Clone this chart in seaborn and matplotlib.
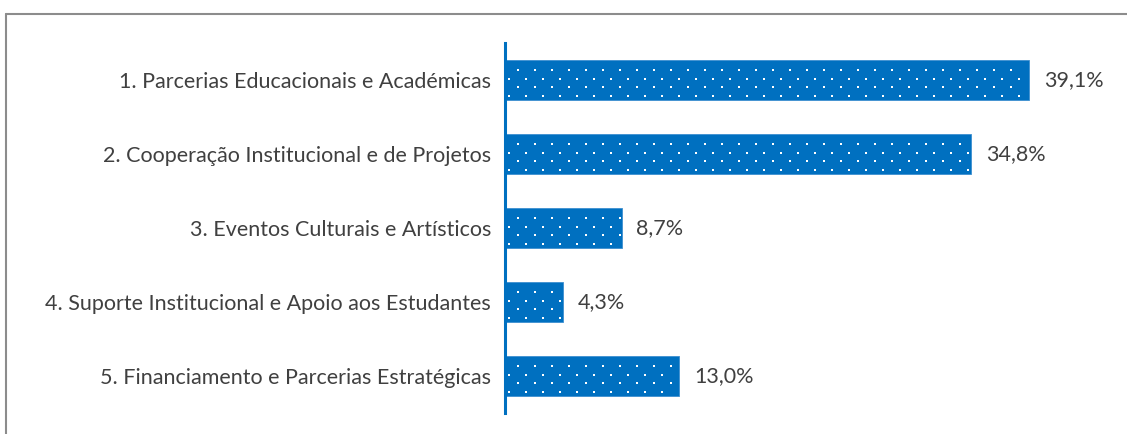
import numpy as np
import pandas as pd
import matplotlib
import matplotlib.pyplot as plt
from matplotlib.lines import Line2D
import seaborn as sns

categories = [
    "1. Parcerias Educacionais e Académicas",
    "2. Cooperação Institucional e de Projetos",
    "3. Eventos Culturais e Artísticos",
    "4. Suporte Institucional e Apoio aos Estudantes",
    "5. Financiamento e Parcerias Estratégicas",
]
values = [39.1, 34.8, 8.7, 4.3, 13.0]

sns.set_style("white")
plt.rcParams['font.family'] = ['Lato', 'DejaVu Sans']

df = pd.DataFrame({"categoria": categories, "pct": values})

fig = plt.figure(figsize=(11.27, 4.34), dpi=100)
ax = fig.add_axes([505 / 1127, 1 - 413 / 434, (1108 - 505) / 1127, (413 - 43) / 434])

sns.barplot(data=df, x="pct", y="categoria", orient="h", color="#0070C0",
            saturation=1, width=0.54, ax=ax, edgecolor="#3d8fd0", linewidth=0.6)

for i, v in enumerate(values):
    ax.text(v + 1.1, i, f"{v:.1f}%".replace(".", ","), va="center", ha="left",
            fontsize=15.5, color="#404040")

ax.set_xlim(0, 45)
ax.set_ylim(4.5, -0.5)
ax.set_xlabel("")
ax.set_ylabel("")
ax.set_xticks([])
ax.tick_params(axis="y", length=0, pad=10, labelsize=15.5, labelcolor="#404040")
for s in ["top", "right", "bottom"]:
    ax.spines[s].set_visible(False)
ax.spines["left"].set_color("#0070C0")
ax.spines["left"].set_linewidth(2.2)

# dotted fill texture (staggered lattice of tiny white dots, in pixels)
inv = ax.transData.inverted()
for p in ax.patches:
    bb = p.get_window_extent()
    pts = []
    for k, yy in enumerate(np.arange(bb.y0 + 4, bb.y1 - 2, 8.5)):
        start = bb.x0 + (4 if k % 2 == 0 else 12.5)
        for xx in np.arange(start, bb.x1 - 2, 17):
            pts.append((xx, yy))
    if pts:
        d = inv.transform(np.array(pts))
        ax.scatter(d[:, 0], d[:, 1], s=2.2, marker="s", color="white", linewidths=0, zorder=5)

# outer frame (only top and left visible in the crop)
fig.add_artist(Line2D([5.5 / 1127, 1], [1 - 13.5 / 434] * 2, color="#8c8c8c", lw=1.5,
                      transform=fig.transFigure))
fig.add_artist(Line2D([5.5 / 1127] * 2, [0, 1 - 13.5 / 434], color="#8c8c8c", lw=1.5,
                      transform=fig.transFigure))

fig.savefig("out.png", dpi=100)
